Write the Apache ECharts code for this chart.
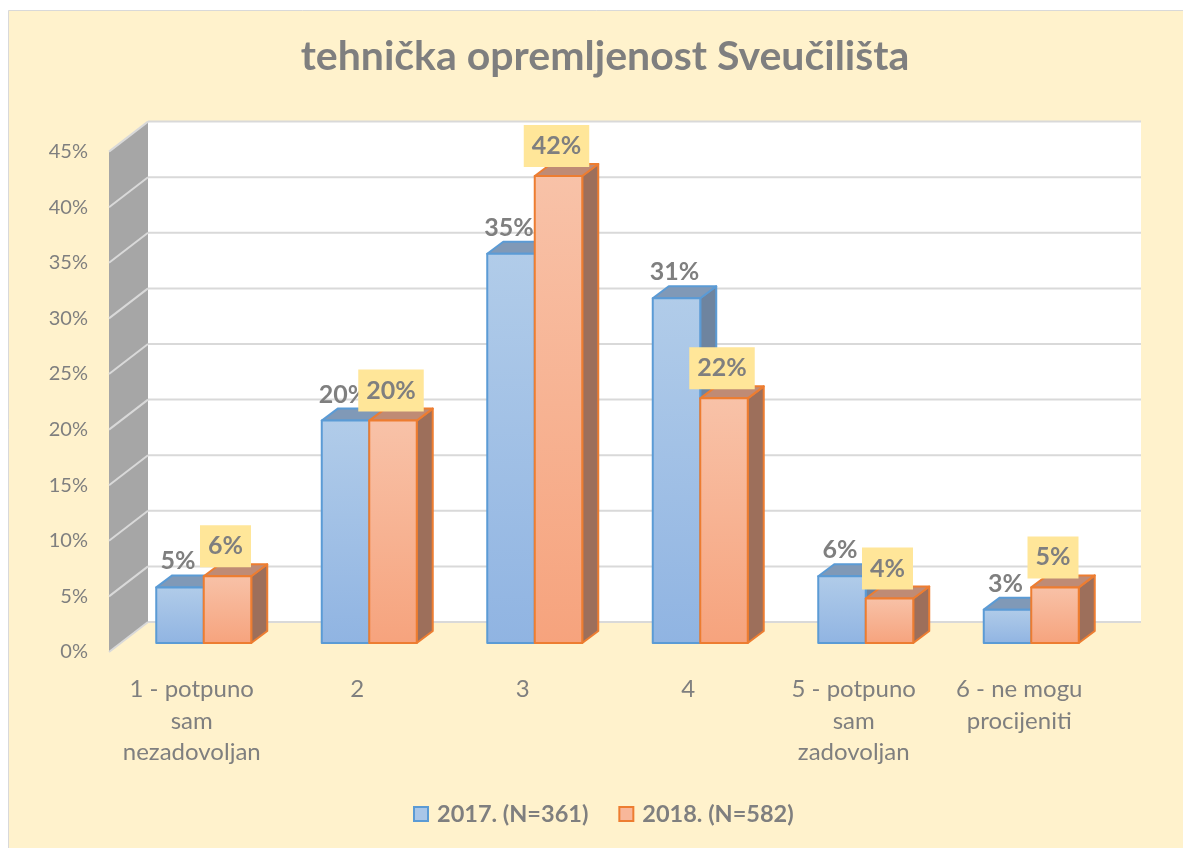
<!DOCTYPE html>
<html>
<head>
<meta charset="utf-8">
<script src="https://cdn.jsdelivr.net/npm/echarts@6/dist/echarts.min.js"></script>
<style>
  html, body { margin: 0; padding: 0; background: #fff; }
  #chart { width: 1183px; height: 848px; }
</style>
</head>
<body>
<div id="chart"></div>
<script>
// podaci
const categories = ['1 - potpuno\nsam\nnezadovoljan', '2', '3', '4', '5 - potpuno\nsam\nzadovoljan', '6 - ne mogu\nprocijeniti'];
const values2017 = [5, 20, 35, 31, 6, 3];
const values2018 = [6, 20, 42, 22, 4, 5];
const yTicks = [0, 5, 10, 15, 20, 25, 30, 35, 40, 45];
const seriesNames = ['2017. (N=361)', '2018. (N=582)'];

// 3D pomaci (px)
const BAR_D = [16, -12];
const WALL_BACK = [27, -21];
const WALL_FRONT = [-12, 9];
const FONT = 'Lato, "Open Sans", sans-serif';
const TEXT_GRAY = '#7f7f7f';

const chart = echarts.init(document.getElementById('chart'));

// zidovi: straznji (bijeli) i lijevi (sivi) s linijama mreze
function renderWalls(params, api) {
    const cs = params.coordSys;
    const bx = cs.x + WALL_BACK[0], by = cs.y + WALL_BACK[1];
    const fx = cs.x + WALL_FRONT[0], fy = cs.y + WALL_FRONT[1];
    const children = [
        { type: 'rect', shape: { x: bx, y: by, width: cs.width, height: cs.height }, style: { fill: '#ffffff' } },
        { type: 'polygon', shape: { points: [[fx, fy], [bx, by], [bx, by + cs.height], [fx, fy + cs.height]] }, style: { fill: '#a6a6a6' } }
    ];
    yTicks.forEach(t => {
        const p = api.coord([0, t]);
        const yb = p[1] + WALL_BACK[1];
        const yf = p[1] + WALL_FRONT[1];
        children.push({ type: 'line', shape: { x1: bx, y1: yb, x2: bx + cs.width, y2: yb }, style: { stroke: '#d9d9d9', lineWidth: 2 } });
        children.push({ type: 'line', shape: { x1: fx, y1: yf, x2: bx, y2: yb }, style: { stroke: '#d9d9d9', lineWidth: 2 } });
    });
    return { type: 'group', children };
}

// 3D stupac: prednja strana, vrh i desna strana + oznaka
function makeBarRenderer(side, c) {
    return function (params, api) {
        const i = api.value(0), v = api.value(1);
        const base = api.coord([i, 0]);
        const top = api.coord([i, v]);
        const bw = api.size([1, 0])[0] * 0.287;
        const x0 = side < 0 ? base[0] - bw : base[0];
        const x1 = x0 + bw;
        const y0 = top[1], y1 = base[1];
        const dx = BAR_D[0], dy = BAR_D[1];
        const edge = { stroke: c.border, lineWidth: 2, lineJoin: 'round' };
        const children = [
            { type: 'polygon', shape: { points: [[x1, y0], [x1 + dx, y0 + dy], [x1 + dx, y1 + dy], [x1, y1]] },
              style: Object.assign({ fill: c.side }, edge) },
            { type: 'polygon', shape: { points: [[x0, y0], [x0 + dx, y0 + dy], [x1 + dx, y0 + dy], [x1, y0]] },
              style: Object.assign({ fill: c.top }, edge) },
            { type: 'rect', shape: { x: x0, y: y0, width: bw, height: y1 - y0 },
              style: Object.assign({
                  fill: { type: 'linear', x: 0, y: 0, x2: 0, y2: 1, colorStops: [{ offset: 0, color: c.front[0] }, { offset: 1, color: c.front[1] }] }
              }, edge) }
        ];
        const label = {
            type: 'text', z2: 50,
            style: {
                text: v + '%', x: (x0 + x1) / 2 - 2, y: y0 - (c.box ? 30 : 26),
                align: 'center', verticalAlign: 'middle',
                font: 'bold 25px ' + FONT, fill: TEXT_GRAY
            }
        };
        if (c.box) {
            label.style.backgroundColor = c.box;
            label.style.padding = [9, 8, 8, 8];
        }
        children.push(label);
        return { type: 'group', children };
    };
}

const blue = { border: '#5b9bd5', side: '#6e849f', top: '#8099b7', front: ['#b1cce9', '#90b4e2'] };
const orange = { border: '#ed7d31', side: '#9d6f5b', top: '#bf8b75', front: ['#f8c2a8', '#f6a37d'], box: '#ffe699' };

chart.setOption({
    backgroundColor: '#ffffff',
    graphic: [{
        type: 'rect', z: -100, silent: true,
        shape: { x: 8.5, y: 10.5, width: 1200, height: 860 },
        style: { fill: '#fff2cc', stroke: '#d9d9d9', lineWidth: 1 }
    }],
    title: {
        text: 'tehnička opremljenost Sveučilišta',
        left: 600, top: 31, textAlign: 'center',
        textStyle: { fontFamily: FONT, fontSize: 41, fontWeight: 'bold', color: TEXT_GRAY }
    },
    legend: {
        bottom: 22, left: 413, padding: 0,
        itemWidth: 14, itemHeight: 14, itemGap: 30,
        textStyle: { fontFamily: FONT, fontSize: 23.5, fontWeight: 'bold', color: TEXT_GRAY, padding: [0, 0, 0, 4] },
        data: [
            { name: seriesNames[0], icon: 'rect', itemStyle: { color: '#a9c6e8', borderColor: '#5b9bd5', borderWidth: 2 } },
            { name: seriesNames[1], icon: 'rect', itemStyle: { color: '#f8b79a', borderColor: '#ed7d31', borderWidth: 2 } }
        ]
    },
    grid: [
        { left: 121, right: 69, top: 142.6, bottom: 205 },
        { left: 109, right: 81, top: 151.6, bottom: 196 }
    ],
    xAxis: [
        { type: 'category', gridIndex: 0, data: categories, show: false },
        {
            type: 'category', gridIndex: 1, data: categories,
            axisLine: { show: false }, axisTick: { show: false },
            axisLabel: { interval: 0, margin: 22, fontFamily: FONT, fontSize: 24, lineHeight: 31.5, color: TEXT_GRAY }
        }
    ],
    yAxis: [
        { type: 'value', gridIndex: 0, min: 0, max: 45, interval: 5, show: false },
        {
            type: 'value', gridIndex: 1, min: 0, max: 45, interval: 5,
            splitLine: { show: false }, axisLine: { show: false }, axisTick: { show: false },
            axisLabel: { margin: 21, formatter: '{value}%', fontFamily: FONT, fontSize: 20, color: TEXT_GRAY }
        }
    ],
    series: [
        {
            type: 'custom', name: 'walls', xAxisIndex: 0, yAxisIndex: 0, z: 1, silent: true,
            renderItem: renderWalls, data: [[0, 0]], encode: { x: 0, y: 1 }
        },
        {
            type: 'custom', name: seriesNames[0], xAxisIndex: 0, yAxisIndex: 0, z: 2,
            itemStyle: { color: '#a9c6e8' },
            renderItem: makeBarRenderer(-1, blue),
            data: values2017.map((v, i) => [i, v]), encode: { x: 0, y: 1 }
        },
        {
            type: 'custom', name: seriesNames[1], xAxisIndex: 0, yAxisIndex: 0, z: 3,
            itemStyle: { color: '#f8b79a' },
            renderItem: makeBarRenderer(1, orange),
            data: values2018.map((v, i) => [i, v]), encode: { x: 0, y: 1 }
        }
    ]
});
</script>
</body>
</html>
